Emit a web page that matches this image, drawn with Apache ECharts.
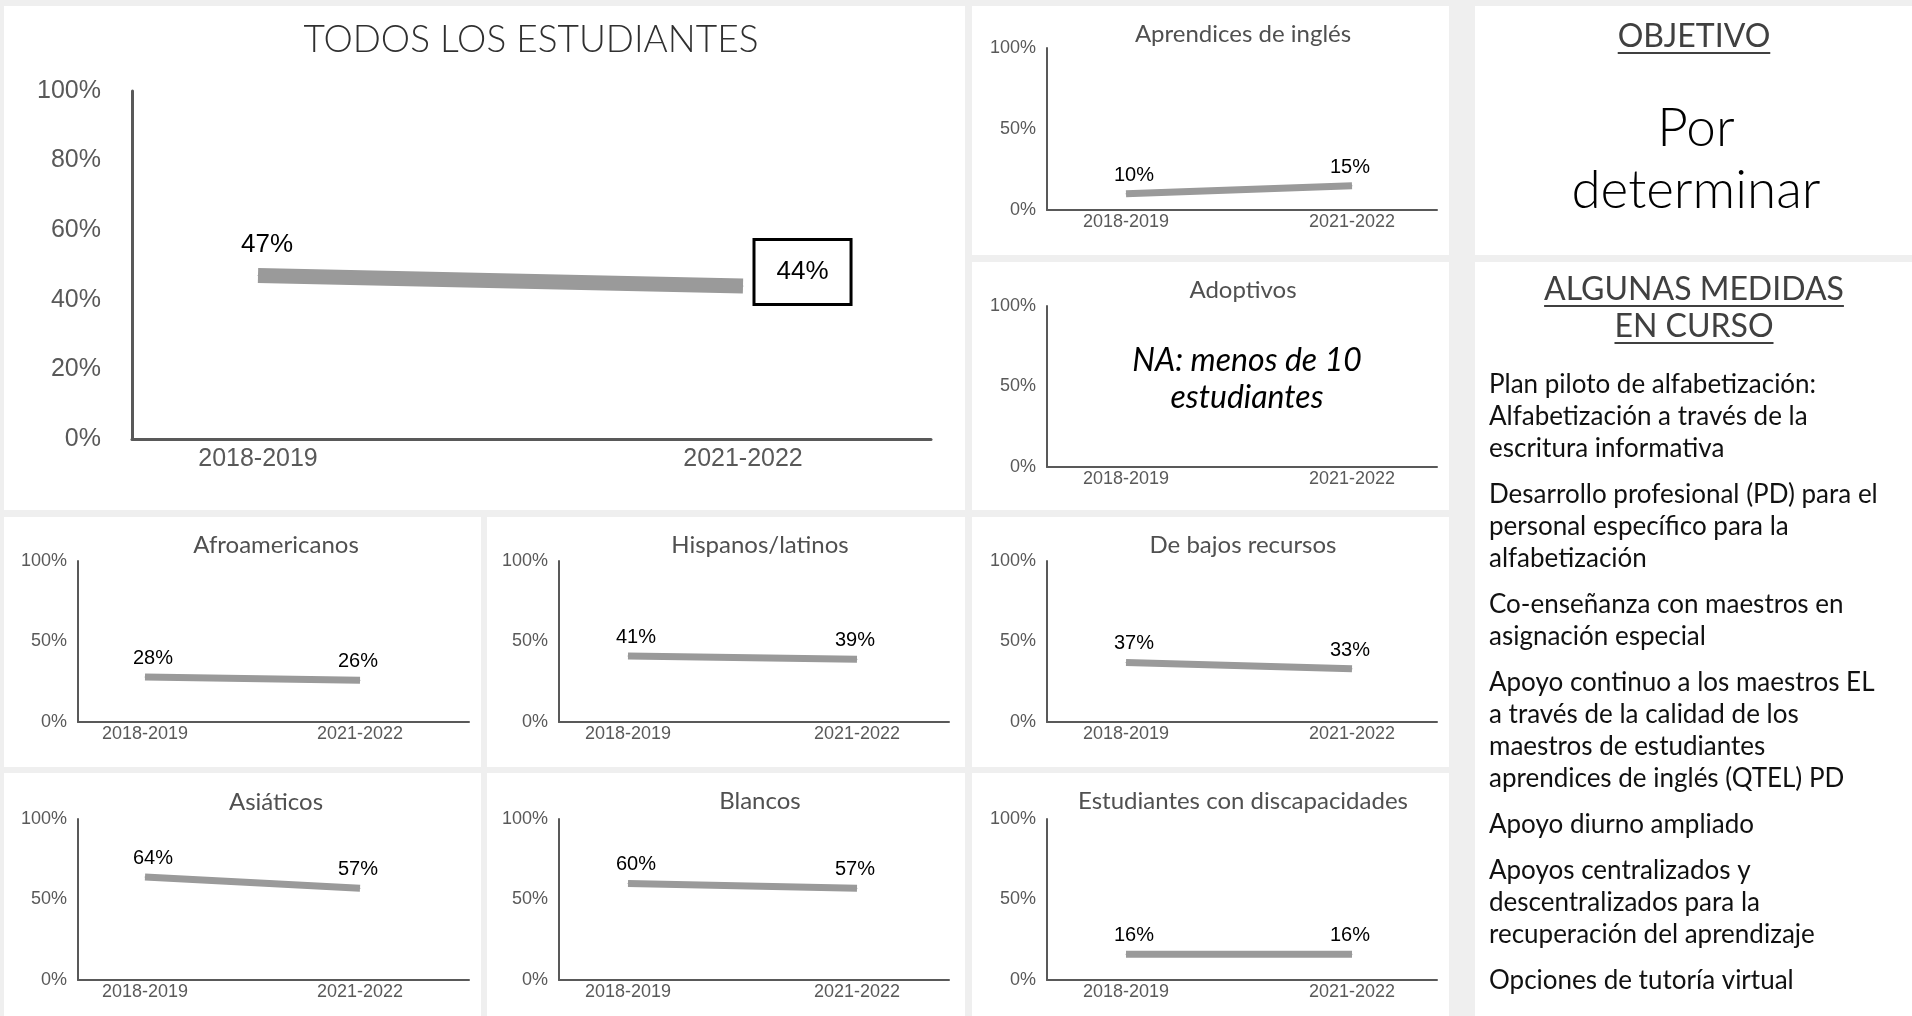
<!DOCTYPE html>
<html>
<head>
<meta charset="utf-8">
<script src="https://cdn.jsdelivr.net/npm/echarts@6/dist/echarts.min.js"></script>
<style>
html,body{margin:0;padding:0;background:#efefef;overflow:hidden}
#c{width:1912px;height:1016px}
</style>
</head>
<body>
<div id="c"></div>
<script>
// ---------------- DATA ----------------
const categories = ['2018-2019', '2021-2022'];
const mainTitle = 'TODOS LOS ESTUDIANTES';
const mainValues = [47, 44];
const elValues = [10, 15];
const afroValues = [28, 26];
const hispValues = [41, 39];
const lowIncomeValues = [37, 33];
const asianValues = [64, 57];
const whiteValues = [60, 57];
const swdValues = [16, 16];
const fosterValues = null; // no data
const fosterNote = ['NA: menos de 10', 'estudiantes'];
const groupTitles = {
  el: 'Aprendices de inglés',
  foster: 'Adoptivos',
  afro: 'Afroamericanos',
  hisp: 'Hispanos/latinos',
  low: 'De bajos recursos',
  asian: 'Asiáticos',
  white: 'Blancos',
  swd: 'Estudiantes con discapacidades'
};
const objectiveHeading = 'OBJETIVO';
const objectiveText = ['Por', 'determinar'];
const actionsHeading = ['ALGUNAS MEDIDAS', 'EN CURSO'];
const actions = [
  ['Plan piloto de alfabetización:', 'Alfabetización a través de la', 'escritura informativa'],
  ['Desarrollo profesional (PD) para el', 'personal específico para la', 'alfabetización'],
  ['Co-enseñanza con maestros en', 'asignación especial'],
  ['Apoyo continuo a los maestros EL', 'a través de la calidad de los', 'maestros de estudiantes', 'aprendices de inglés (QTEL) PD'],
  ['Apoyo diurno ampliado'],
  ['Apoyos centralizados y', 'descentralizados para la', 'recuperación del aprendizaje'],
  ['Opciones de tutoría virtual']
];

// ---------------- STYLE / LAYOUT ----------------
const SANS = 'Lato, "Noto Sans", sans-serif';
const ARIAL = '"Liberation Sans", Arial, sans-serif';
const AXIS = '#595959';
const LINE = '#9a9a9a';

const panels = [
  [4, 6, 961, 504], [972, 6, 477, 249], [972, 262, 477, 248],
  [1475, 6, 437, 249], [1475, 262, 437, 754],
  [4, 517, 477, 250], [487, 517, 478, 250], [972, 517, 477, 250],
  [4, 773, 477, 243], [487, 773, 478, 243], [972, 773, 477, 243]
];

const grids = [], xAxes = [], yAxes = [], series = [], graphics = [];

panels.forEach(p => graphics.push({
  type: 'rect', z: -100, silent: true,
  shape: {x: p[0], y: p[1], width: p[2], height: p[3]},
  style: {fill: '#ffffff'}
}));

function text(t, x, y, font, fill, align) {
  graphics.push({
    type: 'text', z: 100, silent: true,
    style: {text: t, x: x, y: y, font: font, fill: fill,
      textAlign: align || 'center', textVerticalAlign: 'middle'}
  });
}

function addChart(s) {
  const idx = grids.length;
  grids.push({left: s.axL, top: s.axT, width: s.axR - s.axL, height: s.axB - s.axT});
  const unit = s.p1 - s.p0;
  xAxes.push({
    gridIndex: idx, type: 'value',
    min: -(s.p0 - s.axL) / unit, max: 1 + (s.axR - s.p1) / unit,
    axisLine: {show: true, onZero: false, lineStyle: {color: AXIS, width: s.axW}},
    axisTick: {show: false}, splitLine: {show: false},
    axisLabel: {customValues: [0, 1], formatter: v => categories[Math.round(v)] || '',
      fontSize: s.xFs, color: AXIS, margin: s.xM, fontFamily: ARIAL}
  });
  yAxes.push({
    gridIndex: idx, type: 'value', min: 0, max: 100, interval: s.yInt,
    axisLine: {show: true, onZero: false, lineStyle: {color: AXIS, width: s.axW}},
    axisTick: {show: false}, splitLine: {show: false},
    axisLabel: {formatter: '{value}%', fontSize: s.yFs, color: AXIS, margin: s.yM, fontFamily: ARIAL}
  });
  if (s.values) {
    series.push({
      type: 'line', xAxisIndex: idx, yAxisIndex: idx, silent: true, animation: false,
      symbol: 'circle', symbolSize: 1, showSymbol: true,
      lineStyle: {width: s.lw, color: LINE, cap: 'butt'},
      itemStyle: {color: LINE},
      label: {show: true, position: 'top', distance: s.ld, fontSize: s.lFs, color: '#000',
        fontFamily: ARIAL, formatter: p => p.value[1] + '%'},
      data: s.values.map((v, i) => ({value: [i, v], label: s.labelFor ? s.labelFor(i) : {offset: [i ? -2 : 8, 0]}}))
    });
  }
  if (s.title) text(s.title, s.tX, s.tY, s.tFont, s.tColor);
}

// main chart
addChart({
  axL: 132, axR: 931, axT: 91, axB: 439, p0: 258, p1: 743,
  axW: 3, xFs: 25, xM: 8, yFs: 25, yM: 31, yInt: 20,
  values: mainValues, lw: 15, ld: 17, lFs: 26,
  labelFor: i => i === 0 ? {offset: [9, 0]} : {
    position: 'right', distance: 12, offset: [0, -14],
    padding: [18, 21, 16, 21], lineHeight: 28,
    borderColor: '#000', borderWidth: 3, backgroundColor: '#fff'
  },
  title: mainTitle, tX: 531, tY: 40, tFont: '300 37px ' + SANS, tColor: '#303030'
});

const cols = [
  {axL: 78, axR: 469, p0: 145, p1: 360, tX: 276},
  {axL: 559, axR: 949, p0: 628, p1: 857, tX: 760},
  {axL: 1047, axR: 1437, p0: 1126, p1: 1352, tX: 1243}
];
const smallBase = {axW: 2, xFs: 18, xM: 3, yFs: 18, yM: 11, yInt: 50, lw: 7, ld: 8, lFs: 20,
  tFont: '24px ' + SANS, tColor: '#505050'};
function small(col, axT, axB, tY, values, title) {
  addChart(Object.assign({}, smallBase, cols[col], {axT: axT, axB: axB, tY: tY, values: values, title: title}));
}
small(2, 48, 210, 34, elValues, groupTitles.el);
small(2, 306, 467, 290, fosterValues, groupTitles.foster);
small(0, 561, 722, 545, afroValues, groupTitles.afro);
small(1, 561, 722, 545, hispValues, groupTitles.hisp);
small(2, 561, 722, 545, lowIncomeValues, groupTitles.low);
small(0, 819, 980, 802, asianValues, groupTitles.asian);
small(1, 819, 980, 801, whiteValues, groupTitles.white);
small(2, 819, 980, 801, swdValues, groupTitles.swd);

// NA note
text(fosterNote[0], 1247, 361, 'italic 32px ' + SANS, '#000');
text(fosterNote[1], 1247, 398, 'italic 32px ' + SANS, '#000');

// right column
const ctx = document.createElement('canvas').getContext('2d');
function underlined(t, x, y, font, color, uy) {
  text(t, x, y, font, color);
  ctx.font = font;
  const w = ctx.measureText(t).width;
  graphics.push({type: 'line', z: 100, silent: true,
    shape: {x1: x - w / 2, y1: uy, x2: x + w / 2, y2: uy},
    style: {stroke: color, lineWidth: 2}});
}
const HFONT = '32px ' + SANS;
underlined(objectiveHeading, 1694, 37, HFONT, '#404040', 53);
text(objectiveText[0], 1696, 129, '300 53px ' + SANS, '#000');
text(objectiveText[1], 1696, 191, '300 53px ' + SANS, '#000');
underlined(actionsHeading[0], 1694, 290, HFONT, '#404040', 306);
underlined(actionsHeading[1], 1694, 327, HFONT, '#404040', 343);

let ly = 385;
actions.forEach(para => {
  para.forEach(line => { text(line, 1489, ly, '26px ' + SANS, '#111', 'left'); ly += 32; });
  ly += 14;
});

const chart = echarts.init(document.getElementById('c'));
chart.setOption({
  backgroundColor: '#efefef',
  animation: false,
  grid: grids, xAxis: xAxes, yAxis: yAxes, series: series,
  graphic: {elements: graphics}
});
</script>
</body>
</html>
